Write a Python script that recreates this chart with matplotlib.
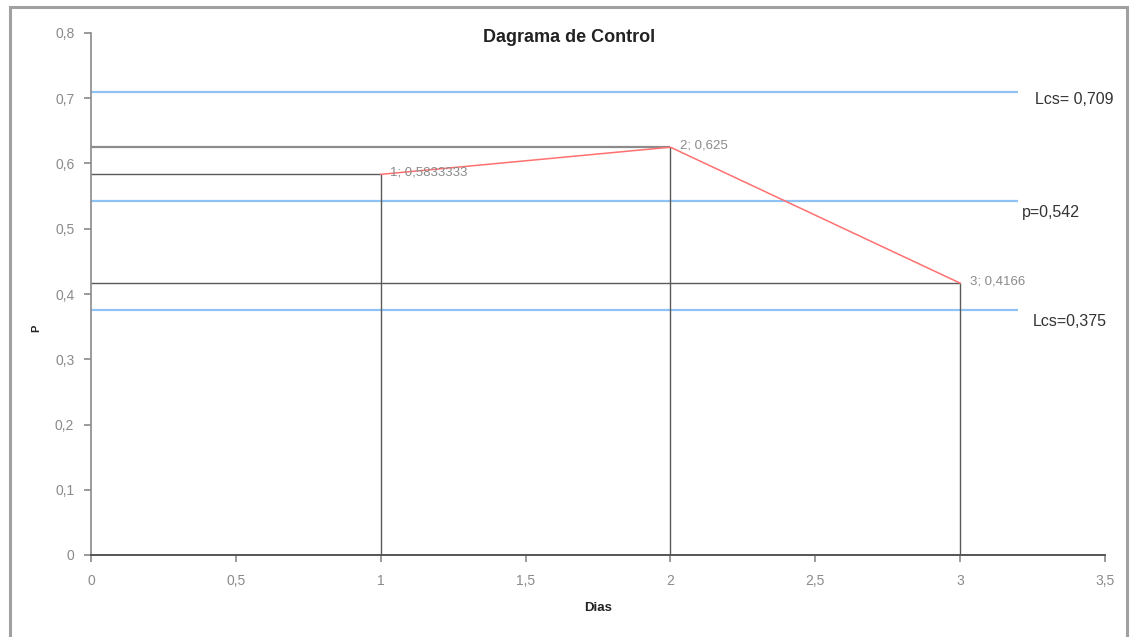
import matplotlib
matplotlib.use("Agg")
import matplotlib.pyplot as plt
from matplotlib.patches import Rectangle
from matplotlib.ticker import FuncFormatter, MultipleLocator

# Proportion of defectives per day
dias = [1, 2, 3]
proporcion = [0.5833333, 0.625, 0.4166]
etiquetas_puntos = ["1; 0,5833333", "2; 0,625", "3; 0,4166"]

# Control limits and centre line
limites = [0.709, 0.542, 0.375]
etiquetas_limites = ["Lcs= 0,709", "p=0,542", "Lcs=0,375"]
limite_x_fin = 3.2

plt.rcParams["font.family"] = ["Liberation Sans", "DejaVu Sans"]

W, H = 1131, 637
fig = plt.figure(figsize=(W / 100, H / 100), dpi=100)
ax = fig.add_axes([91 / W, (H - 555) / H, 1014 / W, 522 / H])

# outer chart frame
fig.patches.append(Rectangle((10 / W, -0.05), (1127 - 10) / W, (H - 7) / H + 0.05,
                             transform=fig.transFigure, fill=False,
                             edgecolor="#a0a0a0", linewidth=2.2, zorder=0))

# drop lines from each point to both axes
guide_colors = ["#5a5a5a", "#8c8c8c", "#5a5a5a"]
guide_widths = [1.0, 1.6, 1.0]
for xv, yv, c, lw in zip(dias, proporcion, guide_colors, guide_widths):
    ax.hlines(yv, 0, xv, colors=c, linewidth=lw, zorder=2)
    ax.vlines(xv, 0, yv, colors="#5a5a5a", linewidth=1.0, zorder=2)

# control limit lines
for yv in limites:
    ax.hlines(yv, 0, limite_x_fin, colors="#8fc3f5", linewidth=1.6, zorder=1,
              clip_on=False)

# series line
ax.plot(dias, proporcion, color="#ff7070", linewidth=1.1, zorder=3)

# point labels
for xv, yv, t in zip(dias, proporcion, etiquetas_puntos):
    ax.annotate(t, (xv, yv), xytext=(7, 1.5), textcoords="offset points",
                ha="left", va="center",
                fontsize=9.5, color="#8a8a8a", zorder=4)

# limit labels, to the right of the line ends
label_pos = [(1035, 99), (1022, 212), (1033, 322)]
for (px, py), t in zip(label_pos, etiquetas_limites):
    fig.text(px / W, (H - py) / H, t, ha="left", va="center",
             fontsize=11.5, color="#333333")

ax.set_xlim(0, 3.5)
ax.set_ylim(0, 0.8)
ax.xaxis.set_major_locator(MultipleLocator(0.5))
ax.yaxis.set_major_locator(MultipleLocator(0.1))
fmt = FuncFormatter(lambda v, _: ("%g" % round(v, 2)).replace(".", ","))
ax.xaxis.set_major_formatter(fmt)
ax.yaxis.set_major_formatter(fmt)

for s in ["top", "right"]:
    ax.spines[s].set_visible(False)
ax.spines["left"].set_color("#8a8a8a")
ax.spines["bottom"].set_color("#555555")
ax.spines["left"].set_linewidth(1.2)
ax.spines["bottom"].set_linewidth(1.4)
ax.tick_params(axis="y", direction="out", length=5, width=1.2, color="#8a8a8a",
               labelsize=10, labelcolor="#8a8a8a", pad=7)
ax.tick_params(axis="x", direction="out", length=5, width=1.2, color="#8a8a8a",
               labelsize=10, labelcolor="#8a8a8a", pad=9)

fig.text(569 / W, (H - 37) / H, "Dagrama de Control", ha="center", va="center",
         fontsize=13, fontweight="bold", color="#222222")
fig.text(598 / W, (H - 608) / H, "Dias", ha="center", va="center",
         fontsize=9.5, fontweight="bold", color="#222222")
fig.text(36 / W, (H - 328) / H, "P", ha="center", va="center", rotation=90,
         fontsize=8, fontweight="bold", color="#222222")

fig.savefig("out.png", dpi=100, facecolor="white")
